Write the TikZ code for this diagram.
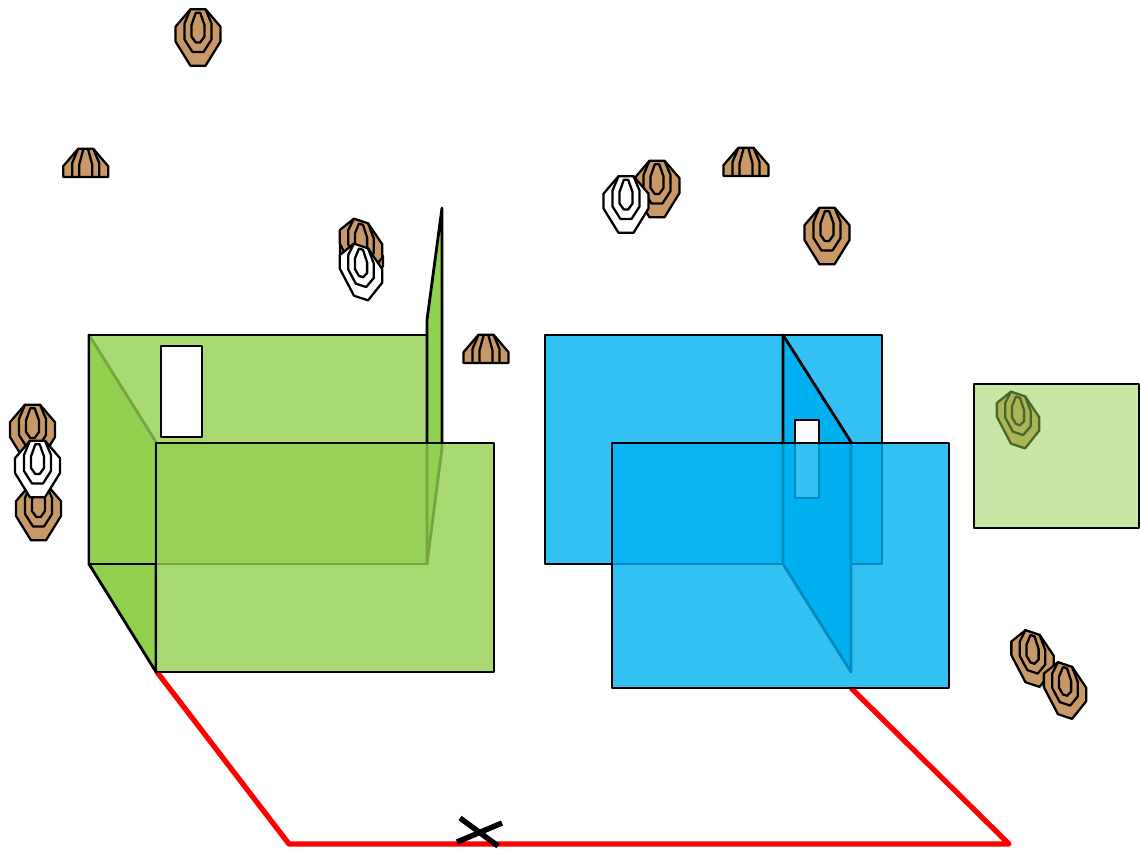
\documentclass[tikz,border=0pt]{standalone}
\usepackage{xcolor}
\definecolor{wallgreen}{RGB}{146,208,80}
\definecolor{wallblue}{RGB}{0,176,240}
\definecolor{targetbrown}{RGB}{200,153,102}
\tikzset{
  wall/.style={draw=black,line width=1.6pt,line join=round},
  targetline/.style={draw=black,line width=1.3pt,line join=round},
  skewed/.style={xscale=0.94,yscale=0.92,yslant=-0.34},
  pics/target/.style={code={
    \draw[targetline,fill=#1] (-7.5,-28.3) -- (7.5,-28.3) -- (22.5,-10.8) -- (22.5,4) -- (7.5,28.3) -- (-7.5,28.3) -- (-22.5,4) -- (-22.5,-10.8) -- cycle;
    \draw[targetline] (-7.5,-28.3) -- (-13.5,-14) -- (-13.5,2) -- (-5.5,14.5) -- (5.5,14.5) -- (13.5,2) -- (13.5,-14) -- (7.5,-28.3);
    \draw[targetline] (-2.2,-24.7) -- (2.2,-24.7) -- (6.5,-12.5) -- (6.5,-1) -- (2.2,5) -- (-2.2,5) -- (-6.5,-1) -- (-6.5,-12.5) -- cycle;
  }},
  pics/halftarget/.style={code={
    \draw[targetline,fill=targetbrown] (-7.5,-28.3) -- (7.5,-28.3) -- (22.5,-10.8) -- (22.5,0) -- (-22.5,0) -- (-22.5,-10.8) -- cycle;
    \draw[targetline] (-7.5,-28.3) -- (-13.5,-14) -- (-13.5,0);
    \draw[targetline] (7.5,-28.3) -- (13.5,-14) -- (13.5,0);
    \draw[targetline] (-2.2,-28.3) -- (-6.5,-12.5) -- (-6.5,0);
    \draw[targetline] (2.2,-28.3) -- (6.5,-12.5) -- (6.5,0);
  }}
}
\begin{document}
\begin{tikzpicture}[x=0.02cm,y=-0.02cm]
\useasboundingbox (0,0) rectangle (1141,848);

% Red route
\draw[red,line width=3pt,line join=round] (157,672) -- (289,844) -- (1009,844) -- (851,688);
\draw[black,line width=3.1pt] (460,818) -- (498,846);
\draw[black,line width=3.1pt] (457,842) -- (502,823);

% Green room
\draw[wall,fill=wallgreen] (89,335) -- (156,442) -- (156,672) -- (89,564) -- cycle;
\draw[wall,fill=wallgreen,fill opacity=0.8] (89,335) rectangle (427,564);
\draw[wall,fill=wallgreen] (427,320) -- (442,208) -- (442,448) -- (427,564) -- cycle;
\draw[wall,fill=white] (161,346) rectangle (202,437);
\path[fill=wallgreen,fill opacity=0.8] (156,443) rectangle (494,672);
\draw[wall] (156,443) rectangle (494,672);

% Blue room
\draw[wall,fill=wallblue,fill opacity=0.8] (545,335) rectangle (882,564);
\draw[wall,fill=wallblue] (783,335) -- (851,442) -- (851,672) -- (783,564) -- cycle;
\draw[wall,fill=white] (795,420) rectangle (819,498);
\path[fill=wallblue,fill opacity=0.8] (612,443) rectangle (949,688);
\draw[wall] (612,443) rectangle (949,688);

% Targets
\pic at (198,37.5) {target=targetbrown};
\pic at (85.7,177) {halftarget};
\pic at (486,363) {halftarget};
\pic at (746,176) {halftarget};
\pic at (657,189) {target=targetbrown};
\pic at (626,204.5) {target=white};
\pic at (827,236) {target=targetbrown};
\pic at (32.5,433) {target=targetbrown};
\pic at (38.5,512) {target=targetbrown};
\pic at (37.5,469) {target=white};
\draw[targetline,fill=targetbrown] (340,243) -- (340,255) -- (375,278) -- (383,266) -- (383,256) -- cycle;
\pic[skewed] at (361,247) {target=targetbrown};
\pic[skewed] at (361,272) {target=white};
\pic[skewed] at (1032.5,658.5) {target=targetbrown};
\pic[skewed] at (1065,690.5) {target=targetbrown};

% Small panel
\pic[skewed] at (1018,420) {target=targetbrown};
\path[fill=wallgreen,fill opacity=0.5] (974,384) rectangle (1139,528);
\draw[wall] (974,384) rectangle (1139,528);
\end{tikzpicture}
\end{document}
